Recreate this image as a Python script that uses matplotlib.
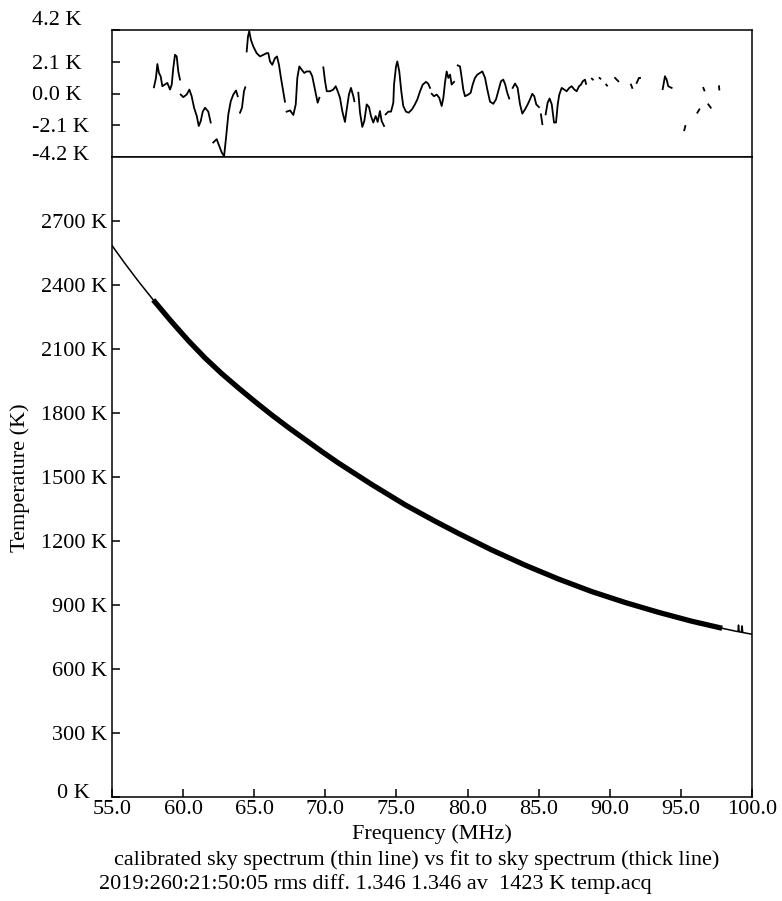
import numpy as np
import matplotlib
matplotlib.use('Agg')
import matplotlib.pyplot as plt
from matplotlib.transforms import ScaledTranslation

nan = np.nan

#------------------------------------------------------------------------------
# data

# calibrated sky spectrum (thin line), K
sky_freq = [55.0, 55.93, 56.85, 58.02, 59.20, 60.37, 61.54, 62.71, 63.88, 65.06,
            66.23, 67.40, 68.57, 69.74, 70.91, 73.26, 75.60, 77.71, 79.35, 81.70,
            84.04, 86.38, 88.73, 91.07, 93.41, 95.76, 98.10, 98.80, 99.02, 99.05,
            99.10, 99.25, 99.30, 99.35, 100.0]
sky_temp = [2585, 2499, 2418, 2320, 2227, 2139, 2058, 1985, 1918, 1853,
            1791, 1732, 1676, 1620, 1566, 1465, 1370, 1293, 1236, 1158,
            1087, 1022, 963, 912, 866, 824, 788, 778, 775, 806,
            774, 772, 802, 771, 763]

# fit to sky spectrum (thick line), K
fit_freq = [57.9, 59.20, 60.37, 61.54, 62.71, 63.88, 65.06, 66.23, 67.40, 68.57,
            69.74, 70.91, 73.26, 75.60, 77.71, 79.35, 81.70, 84.04, 86.38, 88.73,
            91.07, 93.41, 95.76, 97.9]
fit_temp = [2330, 2227, 2139, 2058, 1985, 1918, 1853, 1791, 1732, 1676,
            1620, 1566, 1465, 1370, 1293, 1236, 1158, 1087, 1022, 963,
            912, 866, 824, 791]

# residual (top panel), nan = gap
res_freq = [
    57.95, 58.09, 58.19, 58.30, 58.42, 58.54, 58.89, 59.08, 59.20, 59.31, 59.43, 59.55, 59.66, 59.78, nan,
    59.83, 60.01, 60.25, 60.44, 60.60, 60.77, 60.96, 61.10, 61.24, 61.38, 61.54, 61.77, 61.94, nan,
    62.12, 62.36, 62.54, 62.71, 62.88, 63.02, 63.18, 63.35, 63.53, 63.72, 63.84, nan,
    64.00, 64.14, 64.28, 64.37, nan,
    64.47, 64.56, 64.65, 64.77, 64.94, 65.17, 65.41, 65.64, 65.88, 65.99, 66.11, 66.27, 66.46, 66.60,
    66.74, 66.88, 67.04, 67.16, nan,
    67.28, 67.52, 67.75, 67.92, 68.03, 68.17, 68.34, 68.52, 68.69, 68.92, 69.08, 69.27, 69.46, 69.58, nan,
    69.86, 69.98, 70.10, 70.33, 70.56, 70.73, 70.87, 71.03, 71.19, 71.38, 71.52, 71.66, 71.80, 71.97, 72.04, nan,
    72.32, 72.44, 72.60, 72.74, 72.91, 73.07, 73.21, 73.37, 73.54, 73.68, 73.84, 73.96, 74.13, nan,
    74.24, 74.43, 74.62, 74.78, 74.83, 74.97, 75.06, 75.20, 75.34, 75.48, 75.67, 75.86, 76.09, 76.30,
    76.47, 76.66, 76.85, 77.08, 77.24, 77.36, nan,
    77.48, 77.64, 77.83, 78.01, 78.18, 78.30, 78.41, 78.53, 78.65, 78.77, 78.88, 79.05, nan,
    79.31, 79.47, 79.59, 79.70, 79.82, 80.05, 80.22, 80.36, 80.52, 80.69, 80.88, 81.04, 81.23, 81.39,
    81.58, 81.81, 82.00, 82.19, 82.35, 82.51, 82.65, 82.79, 82.93, nan,
    83.17, 83.34, 83.52, 83.69, 83.85, 84.04, 84.23, 84.39, 84.55, 84.69, 84.83, 85.02, nan,
    85.16, 85.26, nan,
    85.49, 85.63, 85.77, 85.92, 86.08, 86.22, 86.34, 86.45, 86.62, 86.80, 86.97, 87.15, 87.32, 87.51,
    87.67, 87.84, 87.98, 88.10, 88.26, 88.33, nan,
    88.74, 88.81, nan, 89.28, 89.34, nan, 89.75, 89.81, nan, 90.37, 90.60, nan,
    91.49, 91.58, nan, 91.89, 92.05, 92.13, nan,
    93.72, 93.88, 94.00, 94.11, 94.35, nan,
    95.24, 95.31, nan, 96.16, 96.30, nan, 96.58, 96.65, nan, 96.93, 97.10, nan, 97.68, 97.70]
res_temp = [
    0.41, 1.03, 1.95, 1.36, 1.14, 0.48, 0.70, 0.26, 0.59, 1.69, 2.56, 2.45, 1.46, 0.92, nan,
    -0.07, -0.24, -0.07, 0.26, -0.18, -0.94, -1.49, -2.15, -1.82, -1.20, -0.94, -1.20, -1.92, nan,
    -3.24, -3.02, -3.46, -3.89, -4.15, -2.91, -1.38, -0.51, -0.07, 0.20, -0.18, nan,
    -1.27, -0.94, 0.15, 0.41, nan,
    2.78, 3.76, 4.13, 3.54, 3.10, 2.67, 2.45, 2.56, 2.67, 2.67, 2.12, 1.90, 2.34, 2.45,
    1.90, 1.03, 0.15, -0.54, nan,
    -1.20, -1.12, -1.42, -0.72, 1.03, 1.79, 1.57, 1.36, 1.46, 1.46, 1.14, 0.26, -0.61, -0.28, nan,
    1.73, 0.81, 0.15, 0.15, 0.26, 0.48, 0.15, -0.28, -1.16, -1.88, -0.94, -0.07, 0.37, -0.18, -0.51, nan,
    0.05, -1.27, -2.21, -1.82, -0.72, -0.90, -1.49, -1.92, -1.49, -1.88, -1.16, -1.82, -2.15, nan,
    -1.38, -1.20, -1.20, -0.61, 0.59, 1.79, 2.12, 1.46, 0.15, -0.83, -1.20, -1.27, -1.05, -0.72,
    -0.39, 0.15, 0.59, 0.77, 0.64, 0.37, nan,
    -0.02, -0.18, -0.07, -0.28, -0.83, -0.28, 0.70, 1.46, 1.03, 1.25, 0.59, 0.77, nan,
    1.86, 1.79, 1.03, 0.26, -0.18, -0.07, 0.05, 0.59, 1.03, 1.25, 1.36, 1.46, 1.03, 0.26,
    -0.54, -0.68, -0.39, 0.26, 0.81, 0.92, 0.59, 0.05, -0.33, nan,
    0.37, 0.66, 0.37, -0.72, -1.33, -1.05, -0.72, -0.39, -0.02, -0.18, -0.72, -0.90, nan,
    -1.38, -2.03, nan,
    -1.38, -0.61, -0.33, -0.72, -1.92, -1.92, -0.72, -0.07, 0.37, 0.26, 0.15, 0.37, 0.48, 0.26,
    0.15, 0.48, 0.59, 0.81, 0.92, 0.64, nan,
    0.98, 0.92, nan, 1.03, 0.98, nan, 0.59, 0.52, nan, 1.03, 0.81, nan,
    0.59, 0.37, nan, 0.70, 1.03, 1.03, nan,
    0.29, 1.14, 0.92, 0.48, 0.37, nan,
    -2.43, -2.15, nan, -1.27, -1.05, nan, 0.37, 0.20, nan, -0.72, -0.94, nan, 0.48, 0.26]

x_ticks = [55, 60, 65, 70, 75, 80, 85, 90, 95, 100]
temp_ticks = [0, 300, 600, 900, 1200, 1500, 1800, 2100, 2400, 2700]
res_ticks = [-4.2, -2.1, 0.0, 2.1, 4.2]

title_lines = ['calibrated sky spectrum (thin line) vs fit to sky spectrum (thick line)',
               '2019:260:21:50:05 rms diff. 1.346 1.346 av  1423 K temp.acq']

#------------------------------------------------------------------------------
# plot

plt.rcParams['font.family'] = ['Liberation Serif', 'DejaVu Serif']
plt.rcParams['font.size'] = 16
plt.rcParams['axes.linewidth'] = 1.1

W, H = 782, 901
fig = plt.figure(figsize=(W / 100, H / 100), dpi=100)

def px_axes(left, top, right, bottom):
    return fig.add_axes([left / W, 1 - bottom / H, (right - left) / W, (bottom - top) / H])

ax_res = px_axes(112, 30, 752, 157)
ax = px_axes(112, 157, 752, 797)

# residual panel
ax_res.plot(res_freq, res_temp, color='black', lw=1.3)
ax_res.set_xlim(55, 100)
ax_res.set_ylim(-4.2, 4.2)
ax_res.set_xticks([])
ax_res.set_yticks(res_ticks)
ax_res.set_yticklabels(['%.1f K' % v for v in res_ticks])
ax_res.tick_params(axis='y', direction='in', length=5.5, width=1.1, pad=57.6)
for lab in ax_res.get_yticklabels():
    lab.set_horizontalalignment('left')
res_labels = ax_res.get_yticklabels()
res_labels[-1].set_transform(res_labels[-1].get_transform()
                             + ScaledTranslation(0, 0.12, fig.dpi_scale_trans))
res_labels[0].set_transform(res_labels[0].get_transform()
                            + ScaledTranslation(0, 0.04, fig.dpi_scale_trans))

# main panel
ax.plot(sky_freq, sky_temp, color='black', lw=1.1)
ax.plot(fit_freq, fit_temp, color='black', lw=3.8, solid_capstyle='butt',
        solid_joinstyle='round')
ax.set_xlim(55, 100)
ax.set_ylim(0, 3000)
ax.set_xticks(x_ticks)
ax.set_xticklabels(['%.1f' % v for v in x_ticks])
ax.set_yticks(temp_ticks)
ax.set_yticklabels(['%d K' % v for v in temp_ticks])
ax.tick_params(axis='both', direction='in', length=5.5, width=1.1)
ax.tick_params(axis='y', pad=3.6)
ax.tick_params(axis='x', pad=2)
main_labels = ax.get_yticklabels()
main_labels[0].set_transform(main_labels[0].get_transform()
                             + ScaledTranslation(-0.17, 0.06, fig.dpi_scale_trans))

fig.text(20 / W, 1 - 478 / H, 'Temperature (K)', rotation=90, ha='center', va='center')
fig.text(432 / W, 1 - 834 / H, 'Frequency (MHz)', ha='center', va='center')
fig.text(417 / W, 1 - 860 / H, title_lines[0], ha='center', va='center')
fig.text(375 / W, 1 - 884 / H, title_lines[1], ha='center', va='center')

fig.savefig('out.png', dpi=100)
